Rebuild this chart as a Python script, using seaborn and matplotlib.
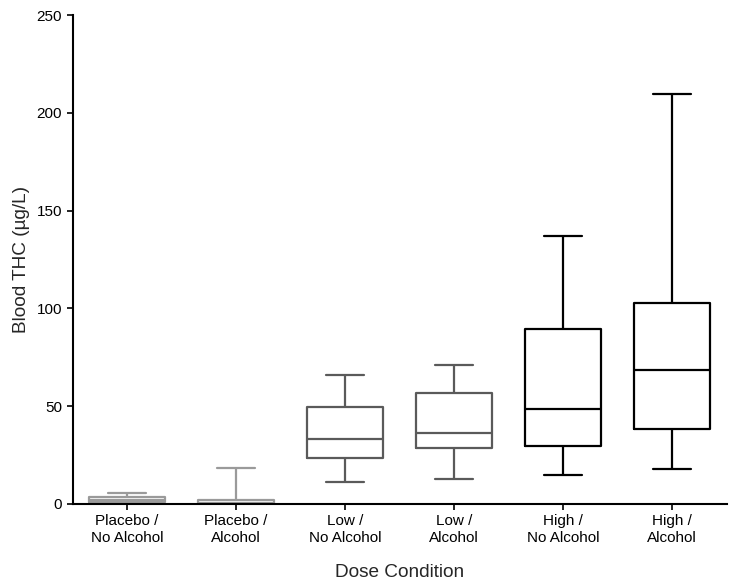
import numpy as np
import pandas as pd
import matplotlib
matplotlib.use("Agg")
import matplotlib.pyplot as plt
import seaborn as sns

# Conditions and box summary (ug/L)
conditions = ["Placebo /\nNo Alcohol", "Placebo /\nAlcohol", "Low /\nNo Alcohol",
              "Low /\nAlcohol", "High /\nNo Alcohol", "High /\nAlcohol"]
whisker_low = [0.0, 0.0, 11.2, 12.8, 14.8, 17.9]
q1 = [0.8, 0.0, 23.5, 28.6, 29.7, 38.3]
median = [2.0, 0.6, 33.2, 36.3, 48.6, 68.5]
q3 = [3.4, 1.8, 49.6, 56.7, 89.5, 102.8]
whisker_high = [5.8, 18.2, 66.0, 71.0, 137.0, 209.6]
box_colors = ["#9a9a9a", "#9a9a9a", "#5a5a5a", "#5a5a5a", "#000000", "#000000"]

# five points per group -> quartiles land exactly on the summary values
rows = []
for i, c in enumerate(conditions):
    for v in (whisker_low[i], q1[i], median[i], q3[i], whisker_high[i]):
        rows.append({"cond": c, "thc": v})
df = pd.DataFrame(rows)

sns.set_style("ticks")
plt.rcParams["font.family"] = ["Liberation Sans", "DejaVu Sans"]

fig, ax = plt.subplots(figsize=(7.34, 5.86), dpi=100)
fig.subplots_adjust(left=0.099, right=0.99, top=0.974, bottom=0.14)

sns.boxplot(data=df, x="cond", y="thc", hue="cond", order=conditions,
            hue_order=conditions, palette=box_colors, fill=False,
            whis=np.inf, width=0.7, linewidth=1.6, legend=False, ax=ax)

ax.set_ylim(0, 250)
ax.set_xlim(-0.5, 5.5)
ax.set_yticks([0, 50, 100, 150, 200, 250])
ax.tick_params(axis="both", labelsize=11, length=4, width=1.2, colors="black")
ax.set_xlabel("Dose Condition", fontsize=13.7, labelpad=14)
ax.set_ylabel("Blood THC (\u00b5g/L)", fontsize=13.7, labelpad=5)
for s in ["top", "right"]:
    ax.spines[s].set_visible(False)
for s in ["left", "bottom"]:
    ax.spines[s].set_linewidth(1.5)
    ax.spines[s].set_color("black")

plt.savefig("out.png", dpi=100)
